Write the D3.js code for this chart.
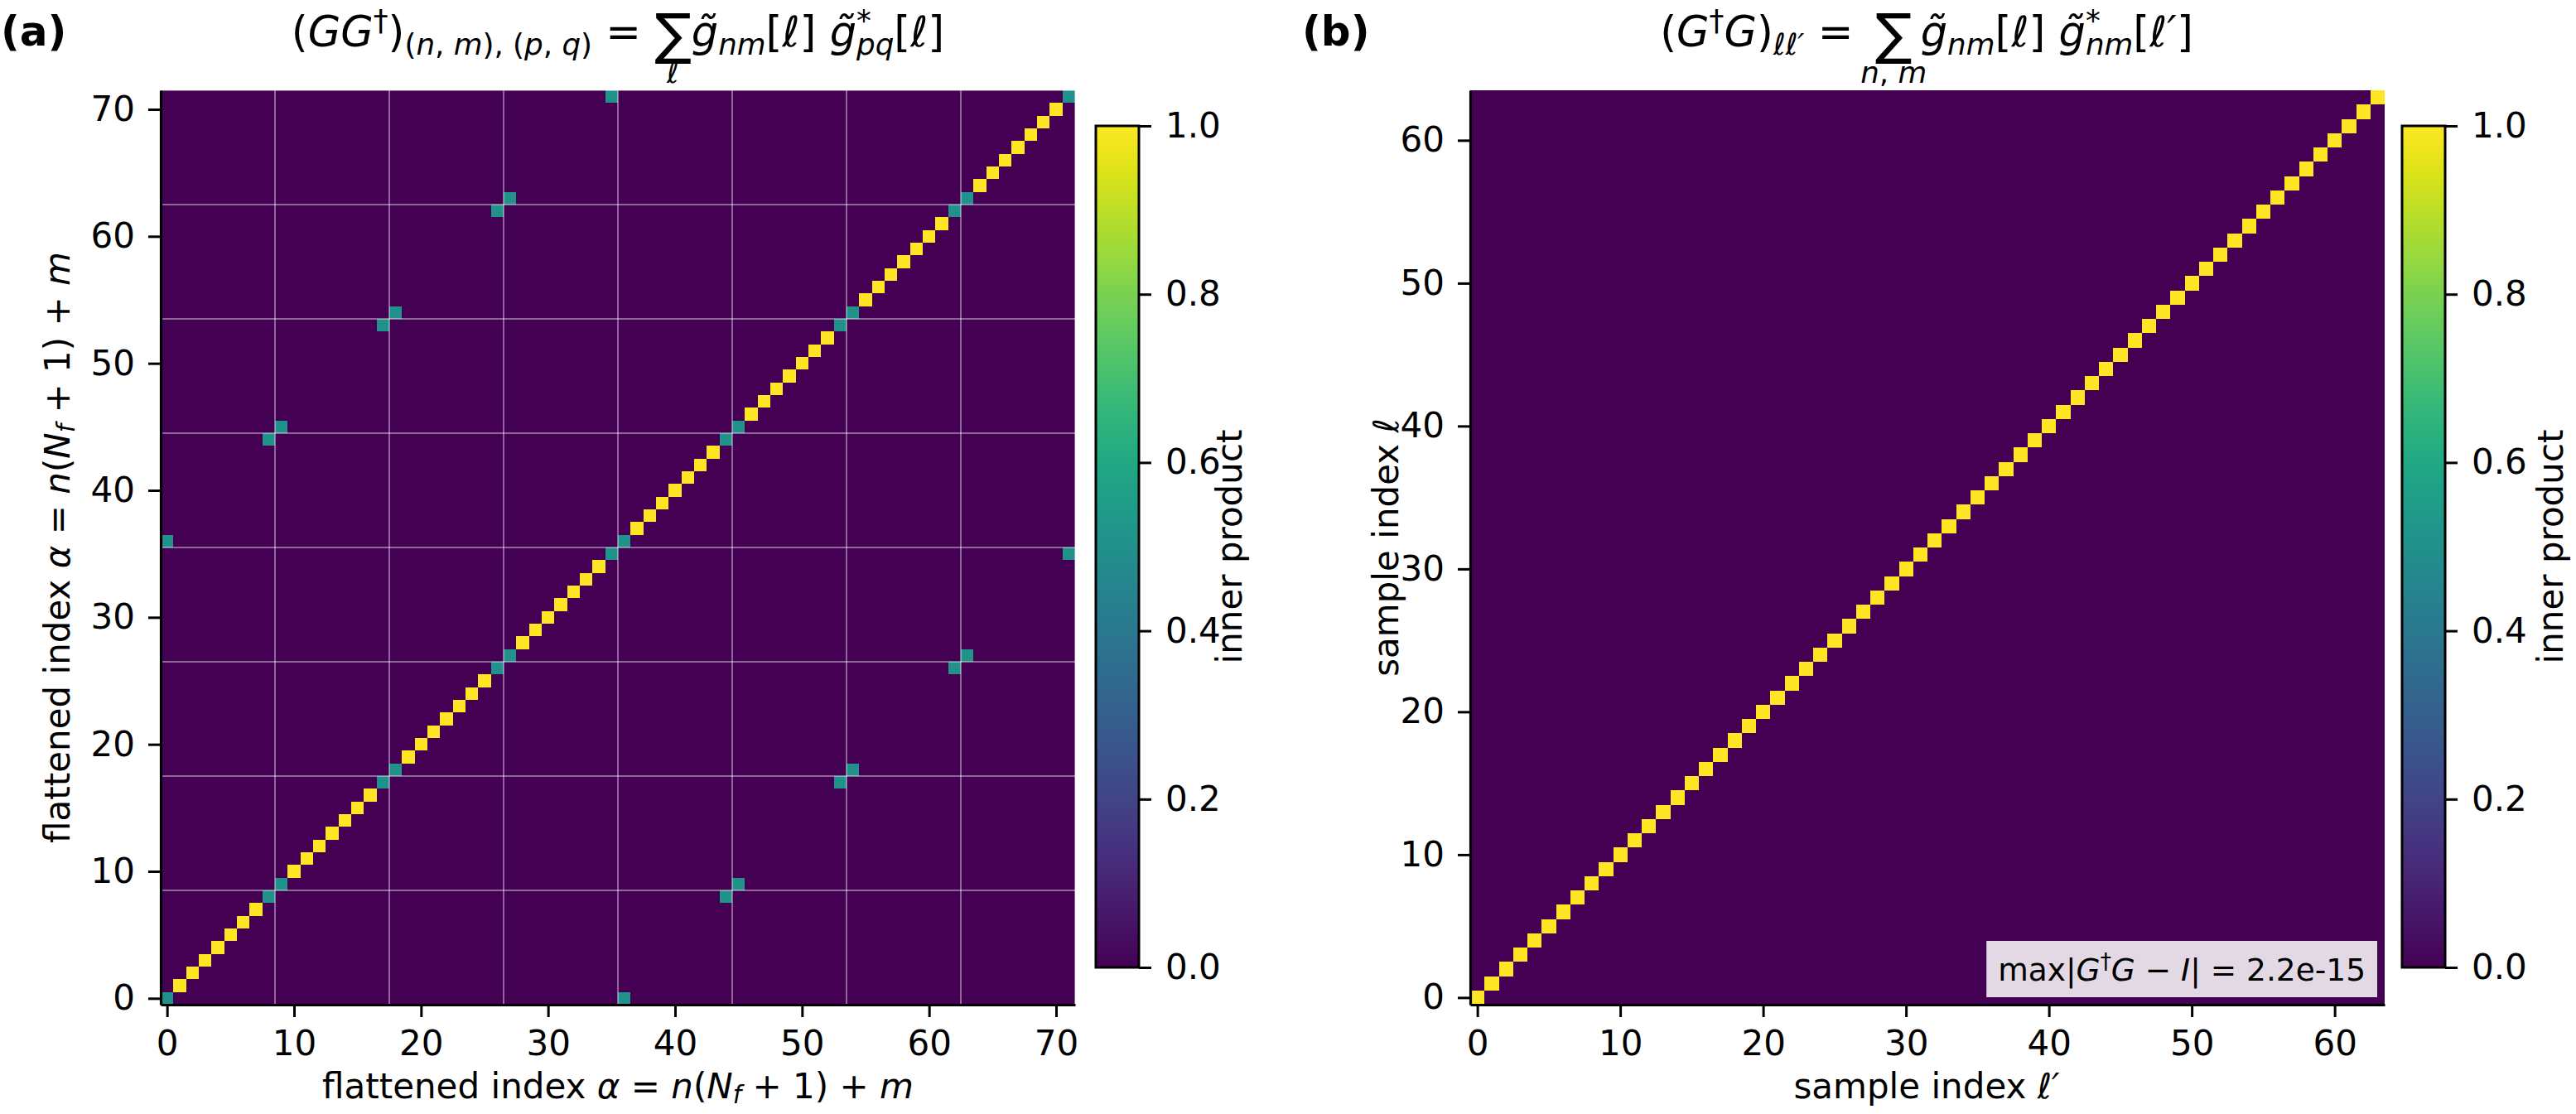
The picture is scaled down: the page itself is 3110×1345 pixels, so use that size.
<!DOCTYPE html>
<html>
<head>
<meta charset="utf-8">
<script src="https://cdn.jsdelivr.net/npm/d3@7"></script>
<style>
  body { margin: 0; background: #fff; }
  text { font-family: "DejaVu Sans", sans-serif; fill: #000; }
</style>
</head>
<body>
<div class="viz"></div>
<script>
// ---- data ----
// panel (a): 72 x 72 Gram matrix, blocks of N_f + 1 = 9
const sizeA = 72;
const diagOneA = 1.0;                // regular diagonal entries
const halfDiagA = [0, 8, 9, 17, 18, 26, 27, 35, 36, 44, 45, 53, 54, 62, 63, 71];
const halfValA = 0.5;                // teal entries
const pairsA = [[0, 36], [8, 44], [9, 45], [17, 53], [18, 54], [26, 62], [27, 63], [35, 71]];
const gridA = [8.5, 17.5, 26.5, 35.5, 44.5, 53.5, 62.5, 71.5];
const ticksA = [0, 10, 20, 30, 40, 50, 60, 70];

// panel (b): 64 x 64 identity
const sizeB = 64;
const diagB = 1.0;
const ticksB = [0, 10, 20, 30, 40, 50, 60];
const maxErrB = "2.2e-15";

const cbarTicks = [0, 0.2, 0.4, 0.6, 0.8, 1.0];

// build matrices
const matA = [];
for (let r = 0; r < sizeA; r++) for (let c = 0; c < sizeA; c++) {
  let v = 0;
  if (r === c) v = halfDiagA.includes(r) ? halfValA : diagOneA;
  pairsA.forEach(([p, q]) => { if ((r === p && c === q) || (r === q && c === p)) v = halfValA; });
  matA.push({ r, c, v });
}
const matB = [];
for (let r = 0; r < sizeB; r++) for (let c = 0; c < sizeB; c++) {
  matB.push({ r, c, v: r === c ? diagB : 0 });
}

const W = 3110, H = 1345;
const FS = 42;      // tick / label font size
const TFS = 51;     // title font size
const svg = d3.select(".viz").append("svg")
  .attr("width", W).attr("height", H)
  .attr("viewBox", `0 0 ${W} ${H}`);
svg.append("rect").attr("width", W).attr("height", H).attr("fill", "#fff");

const color = d3.scaleSequential(d3.interpolateViridis).domain([0, 1]);

// write simple mathtext with tspans
function mathText(t, parts, fs) {
  let cur = 0;
  parts.forEach(p => {
    const off = (p.off || 0) * fs;
    const ts = t.append("tspan").text(p.t)
      .attr("font-size", (p.s || 1) * fs)
      .attr("dy", off - cur);
    if (p.it) ts.attr("font-style", "italic");
    if (p.dx) ts.attr("dx", p.dx * fs);
    if (p.cls) ts.attr("class", p.cls);
    cur = off;
  });
  return t;
}
const SUB = 0.2, SUP = -0.38, SS = 0.7;

function heatmap(opts) {
  const { left, top, size, n, data, ticks, grid } = opts;
  const g = svg.append("g").attr("transform", `translate(${left},${top})`);
  const x = d3.scaleLinear().domain([-0.5, n - 0.5]).range([0, size]);
  const y = d3.scaleLinear().domain([-0.5, n - 0.5]).range([size, 0]);

  g.append("rect").attr("width", size).attr("height", size).attr("fill", color(0));
  g.selectAll("rect.cell")
    .data(data)
    .enter()
    .append("rect")
    .attr("class", "cell")
    .attr("shape-rendering", "crispEdges")
    .attr("x", d => Math.round(x(d.c - 0.5)))
    .attr("y", d => Math.round(y(d.r + 0.5)))
    .attr("width", d => Math.round(x(d.c + 0.5)) - Math.round(x(d.c - 0.5)))
    .attr("height", d => Math.round(y(d.r - 0.5)) - Math.round(y(d.r + 0.5)))
    .attr("fill", d => color(d.v));

  if (grid) {
    g.selectAll("line.vg").data(grid).enter().append("line")
      .attr("x1", d => x(d)).attr("x2", d => x(d))
      .attr("y1", 0).attr("y2", size)
      .attr("stroke", "#fff").attr("stroke-opacity", 0.4).attr("stroke-width", 2);
    g.selectAll("line.hg").data(grid).enter().append("line")
      .attr("y1", d => y(d)).attr("y2", d => y(d))
      .attr("x1", 0).attr("x2", size)
      .attr("stroke", "#fff").attr("stroke-opacity", 0.4).attr("stroke-width", 2);
  }

  const ax = g.append("g").attr("transform", `translate(0,${size})`)
    .call(d3.axisBottom(x).tickValues(ticks).tickSize(15).tickSizeOuter(0).tickPadding(16));
  const ay = g.append("g")
    .call(d3.axisLeft(y).tickValues(ticks).tickSize(15).tickSizeOuter(0).tickPadding(16));
  [ax, ay].forEach(a => {
    a.select(".domain").attr("stroke", "#000").attr("stroke-width", 3.2);
    a.selectAll(".tick line").attr("stroke", "#000").attr("stroke-width", 3);
    a.selectAll(".tick text").attr("font-size", FS).attr("font-family", "DejaVu Sans").attr("fill", "#000");
  });
  return { g, x, y };
}

function colorbar(left, top, height, width, labelX) {
  const g = svg.append("g").attr("transform", `translate(${left},${top})`);
  const id = "vir" + left;
  const grad = svg.append("defs").append("linearGradient")
    .attr("id", id).attr("x1", "0%").attr("x2", "0%").attr("y1", "100%").attr("y2", "0%");
  d3.range(0, 1.0001, 0.05).forEach(t => {
    grad.append("stop").attr("offset", (t * 100) + "%").attr("stop-color", color(t));
  });
  g.append("rect").attr("width", width).attr("height", height).attr("fill", `url(#${id})`);
  const s = d3.scaleLinear().domain([0, 1]).range([height, 0]);
  const a = g.append("g").attr("transform", `translate(${width},0)`)
    .call(d3.axisRight(s).tickValues(cbarTicks).tickFormat(d3.format(".1f"))
      .tickSize(15).tickSizeOuter(0).tickPadding(17));
  a.select(".domain").remove();
  a.selectAll(".tick line").attr("stroke", "#000").attr("stroke-width", 3);
  a.selectAll(".tick text").attr("font-size", FS).attr("font-family", "DejaVu Sans");
  g.append("rect").attr("width", width).attr("height", height)
    .attr("fill", "none").attr("stroke", "#000").attr("stroke-width", 3);
  svg.append("text")
    .attr("transform", `translate(${labelX},${top + height / 2}) rotate(-90)`)
    .attr("text-anchor", "middle")
    .attr("font-size", FS)
    .text("inner product");
}

// place limits under the summation sign
function sumLimits(t, parts, lim, fs) {
  let idx = 0;
  for (const p of parts) { if (p.cls === "sum") break; idx += p.t.length; }
  const ext = t.node().getExtentOfChar(idx);
  const cx = ext.x + ext.width / 2;
  const lt = svg.append("text").attr("x", cx).attr("y", +t.attr("y") + 0.86 * fs)
    .attr("text-anchor", "middle");
  mathText(lt, lim, fs);
}

// ---- panel (a) ----
const A = heatmap({ left: 194, top: 109, size: 1104, n: sizeA, data: matA, ticks: ticksA, grid: gridA });
colorbar(1323, 152, 1016, 52, 1499);

const titleAParts = [
  { t: "(" }, { t: "GG", it: 1 }, { t: "\u2020", s: SS, off: SUP }, { t: ")" },
  { t: "(", s: SS, off: SUB }, { t: "n", it: 1, s: SS, off: SUB }, { t: ", ", s: SS, off: SUB },
  { t: "m", it: 1, s: SS, off: SUB }, { t: "), (", s: SS, off: SUB }, { t: "p", it: 1, s: SS, off: SUB },
  { t: ", ", s: SS, off: SUB }, { t: "q", it: 1, s: SS, off: SUB }, { t: ")", s: SS, off: SUB },
  { t: " = " }, { t: "\u2211", s: 1.3, off: 0.16, cls: "sum" },
  { t: "g\u0303", it: 1 }, { t: "nm", it: 1, s: SS, off: SUB }, { t: "[" }, { t: "\u2113", it: 1 }, { t: "] " },
  { t: "g\u0303", it: 1 }, { t: "*", s: SS, off: SUP }, { t: "pq", it: 1, s: SS, off: SUB, dx: -0.35 },
  { t: "[" }, { t: "\u2113", it: 1 }, { t: "]" }
];
const titleA = svg.append("text").attr("x", 746).attr("y", 56).attr("text-anchor", "middle");
mathText(titleA, titleAParts, TFS);
sumLimits(titleA, titleAParts, [{ t: "\u2113", it: 1, s: SS }], TFS);

svg.append("text").attr("x", 1).attr("y", 55).attr("font-size", 50).attr("font-weight", "bold").text("(a)");

const labA = [
  { t: "flattened index " }, { t: "\u03b1", it: 1 }, { t: " = " }, { t: "n", it: 1 }, { t: "(" },
  { t: "N", it: 1 }, { t: "f", it: 1, s: SS, off: 0.15 }, { t: " + 1) + " }, { t: "m", it: 1 }
];
mathText(svg.append("text").attr("x", 746).attr("y", 1326).attr("text-anchor", "middle"), labA, FS);
mathText(svg.append("text").attr("transform", "translate(84,661) rotate(-90)").attr("text-anchor", "middle"), labA, FS);

// ---- panel (b) ----
const B = heatmap({ left: 1775, top: 109, size: 1104, n: sizeB, data: matB, ticks: ticksB });
colorbar(2900, 152, 1016, 52, 3094);

const titleBParts = [
  { t: "(" }, { t: "G", it: 1 }, { t: "\u2020", s: SS, off: SUP }, { t: "G", it: 1 }, { t: ")" },
  { t: "\u2113\u2113\u2032", it: 1, s: SS, off: SUB },
  { t: " = " }, { t: "\u2211", s: 1.3, off: 0.16, dx: 0.2, cls: "sum" },
  { t: "g\u0303", it: 1, dx: 0.2 }, { t: "nm", it: 1, s: SS, off: SUB }, { t: "[" }, { t: "\u2113", it: 1 }, { t: "] " },
  { t: "g\u0303", it: 1 }, { t: "*", s: SS, off: SUP }, { t: "nm", it: 1, s: SS, off: SUB, dx: -0.35 },
  { t: "[" }, { t: "\u2113\u2032", it: 1 }, { t: "]" }
];
const titleB = svg.append("text").attr("x", 2326).attr("y", 56).attr("text-anchor", "middle");
mathText(titleB, titleBParts, TFS);
sumLimits(titleB, titleBParts, [{ t: "n", it: 1, s: SS }, { t: ", ", s: SS }, { t: "m", it: 1, s: SS }], TFS);

svg.append("text").attr("x", 1572).attr("y", 55).attr("font-size", 50).attr("font-weight", "bold").text("(b)");

mathText(svg.append("text").attr("x", 2326).attr("y", 1326).attr("text-anchor", "middle"),
  [{ t: "sample index " }, { t: "\u2113\u2032", it: 1 }], FS);
mathText(svg.append("text").attr("transform", "translate(1688,661) rotate(-90)").attr("text-anchor", "middle"),
  [{ t: "sample index " }, { t: "\u2113", it: 1 }], FS);

// residual text box
const BFS = 37.5;
const boxG = svg.append("g");
const boxBg = boxG.append("rect");
const boxT = boxG.append("text").attr("x", 2856).attr("y", 1184).attr("text-anchor", "end");
mathText(boxT, [
  { t: "max|" }, { t: "G", it: 1 }, { t: "\u2020", s: SS, off: SUP }, { t: "G", it: 1 }, { t: " \u2212 " },
  { t: "I", it: 1 }, { t: "| =  " + maxErrB }
], BFS);
const bb = boxT.node().getBBox();
boxBg.attr("x", bb.x - 14).attr("y", 1136).attr("width", bb.width + 28).attr("height", 68)
  .attr("fill", "#fff").attr("fill-opacity", 0.85);
</script>
</body>
</html>
